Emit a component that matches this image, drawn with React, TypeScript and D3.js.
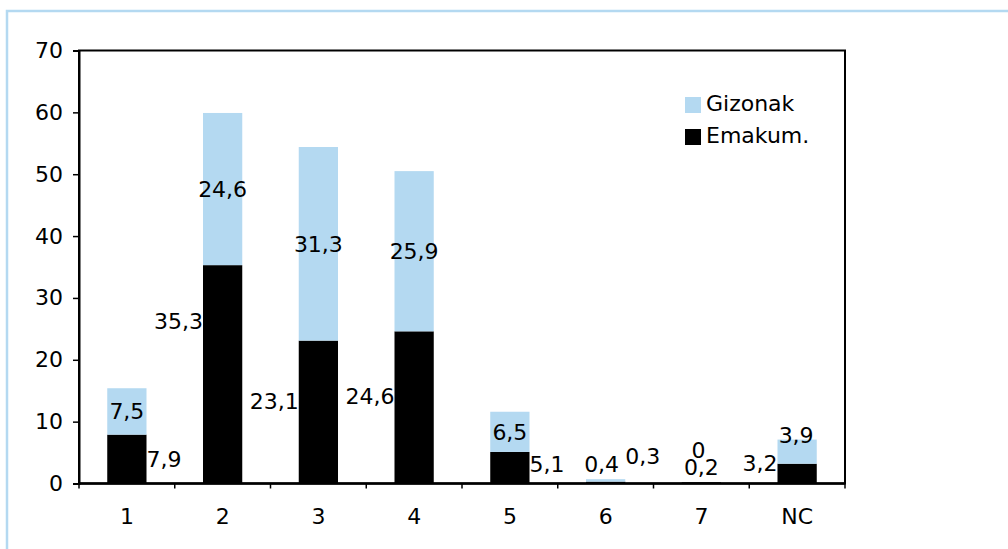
import React, { useEffect, useRef } from "react";
import * as d3 from "d3";

const categories = ["1", "2", "3", "4", "5", "6", "7", "NC"];
const emakumValues = [7.9, 35.3, 23.1, 24.6, 5.1, 0.3, 0.2, 3.2];
const gizonakValues = [7.5, 24.6, 31.3, 25.9, 6.5, 0.4, 0, 3.9];
const yTicks = [0, 10, 20, 30, 40, 50, 60, 70];
const seriesNames = ["Gizonak", "Emakum."];

// label placement, the original had some labels dragged by hand
const emakumSide = ["right", "left", "left", "left", "right", "right", "middle", "left"];
const emakumNudgeY = [0, -53, -11, -11, -4, -26, -16, -11];
const gizonakNudgeX = [0, 0, 0, 0, 0, -4, -3, -1];
const gizonakNudgeY = [0, 0, 0, 0, 0, -16, -32, -17];

const BLUE = "#b4d9f1";
const FONT = "'DejaVu Sans', Verdana, sans-serif";

const fmt = (v: number) => String(v).replace(".", ",");

const App = () => {
  const d3Chart = useRef<SVGSVGElement | null>(null);

  useEffect(() => {
    drawChart();
  }, []);

  const drawChart = () => {
    const svgEl = d3.select(d3Chart.current);
    svgEl.selectAll("*").remove();

    const margin = { top: 50.5, right: 163, bottom: 65.5, left: 79 };
    const width = 1008 - margin.left - margin.right;
    const height = 549 - margin.top - margin.bottom;

    // outer light blue frame
    svgEl
      .append("path")
      .attr("d", "M7,549 V11 H1008")
      .attr("fill", "none")
      .attr("stroke", BLUE)
      .attr("stroke-width", 2.5);

    const svg = svgEl
      .append("g")
      .attr("transform", `translate(${margin.left},${margin.top})`)
      .style("font-family", FONT)
      .style("font-size", "22px");

    const x = d3.scaleBand().domain(categories).range([0, width]).padding(0);
    const barW = x.bandwidth() * 0.41;
    const y = d3.scaleLinear().domain([0, 70]).range([height, 0]);

    // plot border
    svg
      .append("rect")
      .attr("x", 0)
      .attr("y", 0)
      .attr("width", width)
      .attr("height", height)
      .attr("fill", "none")
      .attr("stroke", "#000")
      .attr("stroke-width", 2);

    // bars
    const rows = categories.map((c, i) => ({
      c,
      i,
      em: emakumValues[i],
      gi: gizonakValues[i],
    }));

    svg
      .selectAll(".bar-em")
      .data(rows)
      .enter()
      .append("rect")
      .attr("x", (d) => x(d.c)! + (x.bandwidth() - barW) / 2)
      .attr("y", (d) => y(d.em))
      .attr("width", barW)
      .attr("height", (d) => height - y(d.em))
      .attr("fill", "#000");

    svg
      .selectAll(".bar-gi")
      .data(rows)
      .enter()
      .append("rect")
      .attr("x", (d) => x(d.c)! + (x.bandwidth() - barW) / 2)
      .attr("y", (d) => y(d.em + d.gi))
      .attr("width", barW)
      .attr("height", (d) => y(d.em) - y(d.em + d.gi))
      .attr("fill", BLUE);

    // zero line drawn over the bars
    svg
      .append("line")
      .attr("x1", 0)
      .attr("x2", width)
      .attr("y1", height)
      .attr("y2", height)
      .attr("stroke", "#000")
      .attr("stroke-width", 2.5);

    // Y axis
    const yAxis = svg
      .append("g")
      .call(d3.axisLeft(y).tickValues(yTicks).tickSize(6).tickPadding(10));
    yAxis.select(".domain").attr("stroke-width", 2);
    yAxis.selectAll(".tick line").attr("stroke-width", 1.5);
    yAxis
      .selectAll("text")
      .style("font-family", FONT)
      .style("font-size", "22px")
      .attr("fill", "#000");

    // X axis: ticks at band edges, labels at centers
    const edges = categories.map((c) => x(c)!).concat([width]);
    svg
      .selectAll(".xtick")
      .data(edges)
      .enter()
      .append("line")
      .attr("x1", (d) => d)
      .attr("x2", (d) => d)
      .attr("y1", height)
      .attr("y2", height + 5)
      .attr("stroke", "#000")
      .attr("stroke-width", 1.5);

    svg
      .selectAll(".xlabel")
      .data(categories)
      .enter()
      .append("text")
      .attr("x", (d) => x(d)! + x.bandwidth() / 2)
      .attr("y", height + 40)
      .attr("text-anchor", "middle")
      .text((d) => d);

    // value labels
    svg
      .selectAll(".lab-gi")
      .data(rows)
      .enter()
      .append("text")
      .attr("x", (d) => x(d.c)! + x.bandwidth() / 2 + gizonakNudgeX[d.i])
      .attr("y", (d) => (y(d.em) + y(d.em + d.gi)) / 2 + gizonakNudgeY[d.i])
      .attr("dy", "0.36em")
      .attr("text-anchor", "middle")
      .text((d) => fmt(d.gi));

    svg
      .selectAll(".lab-em")
      .data(rows)
      .enter()
      .append("text")
      .attr("x", (d) => {
        const cx = x(d.c)! + x.bandwidth() / 2;
        const side = emakumSide[d.i];
        if (side === "right") return cx + barW / 2;
        if (side === "left") return cx - barW / 2;
        return cx;
      })
      .attr("y", (d) => (y(0) + y(d.em)) / 2 + emakumNudgeY[d.i])
      .attr("dy", "0.36em")
      .attr("text-anchor", (d) => {
        const side = emakumSide[d.i];
        return side === "right" ? "start" : side === "left" ? "end" : "middle";
      })
      .text((d) => fmt(d.em));

    // legend
    const legend = svg
      .append("g")
      .attr("transform", `translate(${685 - margin.left},${97 - margin.top})`);
    const colors = [BLUE, "#000"];
    seriesNames.forEach((name, i) => {
      legend
        .append("rect")
        .attr("x", 0)
        .attr("y", i * 32)
        .attr("width", 16)
        .attr("height", 16)
        .attr("fill", colors[i]);
      legend
        .append("text")
        .attr("x", 21)
        .attr("y", i * 32 + 14)
        .text(name);
    });
  };

  return (
    <svg
      ref={d3Chart}
      width={1008}
      height={549}
      style={{ position: "absolute", left: 0, top: 0, background: "#fff" }}
    />
  );
};

export default App;
